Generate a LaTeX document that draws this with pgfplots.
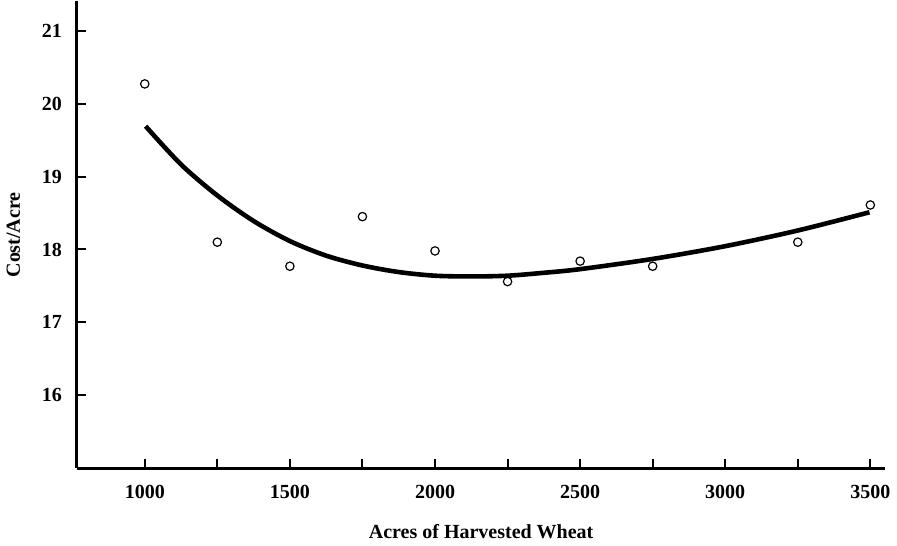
\documentclass[border=0pt]{standalone}
\usepackage{fontspec}
\setmainfont{Liberation Serif}
\usepackage{pgfplots}
\pgfplotsset{compat=1.18}

\begin{document}
\begin{tikzpicture}
\begin{axis}[
  width=404.5pt, height=233.5pt, scale only axis,
  xmin=766, xmax=3552, ymin=15.0, ymax=21.4,
  axis x line=bottom, axis y line=left,
  axis line style={line width=1.5pt,-},
  xtick={1000,1500,...,3500}, minor xtick={1250,1750,...,3250},
  ytick={16,...,21},
  tick align=inside,
  major tick length=4.5pt, minor tick length=4.5pt,
  every tick/.style={line width=1pt,black},
  /pgf/number format/assume math mode=true,
  /pgf/number format/1000 sep={},
  tick label style={font=\bfseries},
  xticklabel style={yshift=-5pt},
  yticklabel style={xshift=-4pt},
  xlabel={\bfseries Acres of Harvested Wheat},
  ylabel={\bfseries Cost/Acre},
  xlabel style={yshift=-6pt},
  ylabel style={yshift=4pt},
  clip=false,
]
  \addplot[only marks, mark=o, mark size=2.1pt, mark options={line width=0.6pt}] coordinates {
    (1000,20.27) (1250,18.10) (1500,17.77) (1750,18.45) (2000,17.98)
    (2250,17.56) (2500,17.84) (2750,17.77) (3250,18.10) (3500,18.61)
  };
  \addplot[smooth, line width=2.3pt, black] coordinates {
    (1003,19.69) (1125,19.165) (1250,18.74) (1375,18.39) (1500,18.115)
    (1625,17.915) (1750,17.78) (1875,17.69) (2000,17.64) (2125,17.63)
    (2250,17.64) (2375,17.68) (2500,17.73) (2750,17.87) (3000,18.045)
    (3250,18.26) (3497,18.51)
  };
\end{axis}
\end{tikzpicture}
\end{document}
